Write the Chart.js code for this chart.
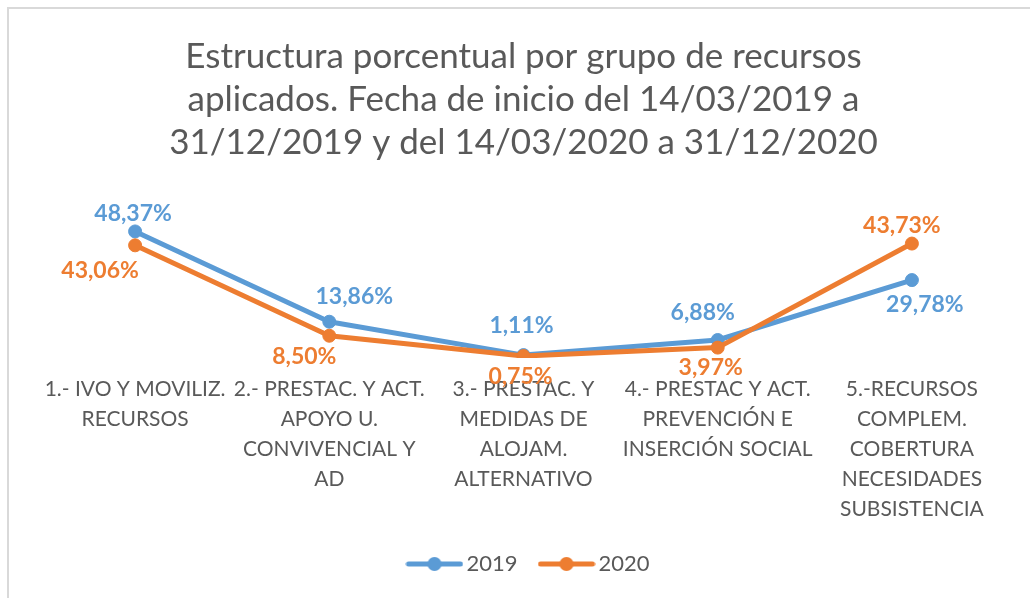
<!DOCTYPE html>
<html>
<head>
<meta charset="utf-8">
<script src="https://cdn.jsdelivr.net/npm/chart.js@4/dist/chart.umd.min.js"></script>
<style>
html,body{margin:0;padding:0;background:#fff;overflow:hidden}
#wrap{position:relative;width:1030px;height:598px;overflow:hidden}
#frame{position:absolute;left:7px;top:7px;width:1100px;height:700px;border-left:2px solid #d9d9d9;border-top:2px solid #d9d9d9;box-sizing:border-box}
canvas{position:absolute;left:0;top:0}
</style>
</head>
<body>
<div id="wrap"><div id="frame"></div><canvas id="c" width="1030" height="598"></canvas></div>
<script>
const titleLines = [
  "Estructura porcentual por grupo de recursos",
  "aplicados. Fecha de inicio del 14/03/2019 a",
  "31/12/2019 y del 14/03/2020 a 31/12/2020"
];
const categories = [
  ["1.- IVO Y MOVILIZ.", "RECURSOS"],
  ["2.- PRESTAC. Y ACT.", "APOYO U.", "CONVIVENCIAL Y", "AD"],
  ["3.- PRESTAC. Y", "MEDIDAS DE", "ALOJAM.", "ALTERNATIVO"],
  ["4.- PRESTAC Y ACT.", "PREVENCIÓN E", "INSERCIÓN SOCIAL"],
  ["5.-RECURSOS", "COMPLEM.", "COBERTURA", "NECESIDADES", "SUBSISTENCIA"]
];
const seriesNames = ["2019", "2020"];
const values2019 = [48.37, 13.86, 1.11, 6.88, 29.78];
const values2020 = [43.06, 8.50, 0.75, 3.97, 43.73];
const yMin = 0;
const yMax = 60;

const BLUE = "#5B9BD5";
const ORANGE = "#ED7D31";
const TEXT = "#595959";
const FONT = "Lato, 'Open Sans', sans-serif";

function fmt(v) { return v.toFixed(2).replace(".", ",") + "%"; }

function legendMarker(color) {
  const c = document.createElement("canvas");
  c.width = 58; c.height = 16;
  const g = c.getContext("2d");
  g.strokeStyle = color; g.lineWidth = 5; g.lineCap = "round";
  g.beginPath(); g.moveTo(3, 8); g.lineTo(55, 8); g.stroke();
  g.fillStyle = color;
  g.beginPath(); g.arc(29, 8, 7, 0, Math.PI * 2); g.fill();
  return c;
}
const markers = [legendMarker(BLUE), legendMarker(ORANGE)];

const pointLabels = {
  id: "pointLabels",
  afterDatasetsDraw(chart, args, opts) {
    const ctx = chart.ctx;
    chart.data.datasets.forEach((ds, di) => {
      const meta = chart.getDatasetMeta(di);
      const offs = opts.offsets[di];
      meta.data.forEach((pt, i) => {
        ctx.save();
        ctx.font = opts.font;
        ctx.fillStyle = ds.borderColor;
        ctx.textAlign = "center";
        ctx.textBaseline = "middle";
        ctx.fillText(fmt(ds.data[i]), pt.x + offs[i][0], pt.y + offs[i][1]);
        ctx.restore();
      });
    });
  }
};

const legendShift = {
  id: "legendShift",
  afterLayout(chart, args, opts) {
    if (chart.legend) {
      chart.legend.left += opts.dx;
      chart.legend.right += opts.dx;
    }
  }
};

new Chart(document.getElementById("c"), {
  type: "line",
  data: {
    labels: categories,
    datasets: [
      {
        label: seriesNames[0], data: values2019,
        borderColor: BLUE, backgroundColor: BLUE,
        pointBackgroundColor: BLUE, pointBorderColor: BLUE,
        borderWidth: 5, pointRadius: 6.5, pointBorderWidth: 1,
        tension: 0, borderCapStyle: "round", borderJoinStyle: "round", order: 1
      },
      {
        label: seriesNames[1], data: values2020,
        borderColor: ORANGE, backgroundColor: ORANGE,
        pointBackgroundColor: ORANGE, pointBorderColor: ORANGE,
        borderWidth: 5, pointRadius: 6.5, pointBorderWidth: 1,
        tension: 0, borderCapStyle: "round", borderJoinStyle: "round", order: 0
      }
    ]
  },
  options: {
    responsive: false,
    animation: false,
    layout: { padding: { left: 38, right: 21, top: 0, bottom: 13 } },
    scales: {
      x: {
        offset: true,
        grid: { display: false, drawTicks: false, offset: true },
        border: { display: false },
        afterFit(scale) { scale.height = 167; },
        ticks: {
          color: TEXT, autoSkip: false, maxRotation: 0, minRotation: 0,
          padding: 16,
          font: { family: FONT, size: 21, lineHeight: "30px" }
        }
      },
      y: { display: false, min: yMin, max: yMax }
    },
    plugins: {
      title: {
        display: true,
        text: titleLines,
        color: TEXT,
        font: { family: FONT, size: 35, weight: "normal", lineHeight: "43px" },
        padding: { top: 35, bottom: 37 }
      },
      legend: {
        position: "bottom",
        labels: {
          usePointStyle: true,
          pointStyleWidth: 42,
          padding: 28,
          color: TEXT,
          font: { family: FONT, size: 22 },
          sort: (a, b) => a.datasetIndex - b.datasetIndex,
          generateLabels(chart) {
            const items = Chart.defaults.plugins.legend.labels.generateLabels(chart);
            items.forEach(it => { it.pointStyle = markers[it.datasetIndex]; });
            return items;
          }
        }
      },
      legendShift: { dx: 8 },
      tooltip: { enabled: false },
      pointLabels: {
        font: "bold 23px " + FONT,
        offsets: [
          [[-2, -18], [25, -25], [-2, -30], [-15, -27], [13, 25]],
          [[-35, 25], [-25, 21], [-3, 21], [-7, 20], [-10, -18]]
        ]
      }
    }
  },
  plugins: [pointLabels, legendShift]
});
</script>
</body>
</html>
